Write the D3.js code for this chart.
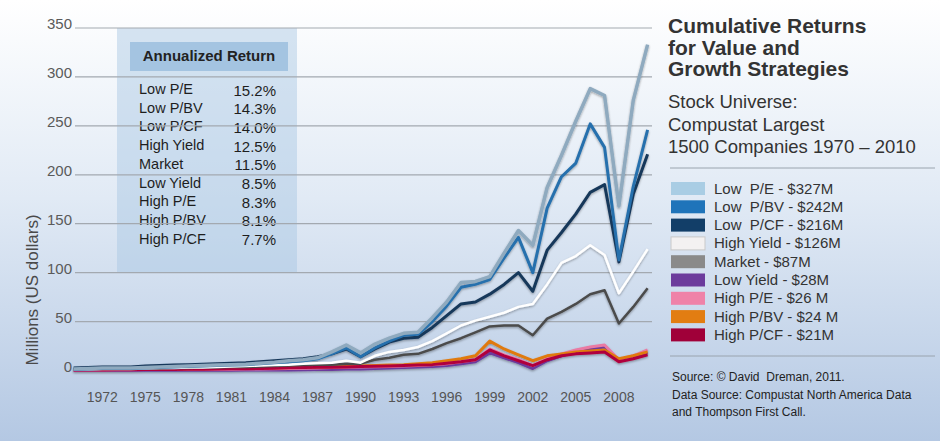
<!DOCTYPE html>
<html lang="en">
<head>
  <meta charset="UTF-8">
  <title>Cumulative Returns for Value and Growth Strategies</title>
  <script src="https://d3js.org/d3.v7.min.js"></script>
  <style>
    body { margin: 0; padding: 0; font-family: "Liberation Sans", Arial, sans-serif; }
    svg { display: block; }
    svg text { white-space: pre; }
  </style>
</head>
<body>
  <div id="chart"></div>
  <script>
    const width = 940, height = 441;

    // data (millions of US dollars, 1970-2010)
    const years = d3.range(1970, 2011);
    const tickYears = [1972, 1975, 1978, 1981, 1984, 1987, 1990, 1993, 1996, 1999, 2002, 2005, 2008];
    const yTicks = [0, 50, 100, 150, 200, 250, 300, 350];

    const lowPE = [1.5, 2, 2.5, 2.5, 2.5, 3, 3.5, 4, 4.5, 5, 5.5, 6, 6.5, 7.5, 8.5, 10, 11, 13, 19, 26,
      18, 27, 33, 38, 39, 54, 70, 90, 91, 96, 120, 143, 128, 187, 220, 255, 288, 281, 168, 276, 333];
    const lowPBV = [1, 1.5, 2, 2, 2, 2.5, 3, 3.5, 4, 4.5, 5, 5.5, 6, 7, 8, 9, 10, 12, 17, 23,
      14, 23, 30, 36, 37, 50, 66, 85, 88, 93, 115, 136, 100, 166, 198, 212, 252, 228, 113, 188, 246];
    const lowPCF = [2.5, 3, 3.5, 3.5, 3.5, 4.5, 5, 5.5, 6, 6.5, 7, 7.5, 8, 9, 10, 11, 12, 14, 17, 22,
      14, 22, 29, 33, 34, 44, 56, 68, 70, 78, 88, 100, 81, 123, 141, 160, 182, 190, 111, 180, 221];
    const highYield = [1, 1, 1.5, 1.5, 1.5, 2, 2.5, 2.5, 3, 3, 3.5, 4, 4.5, 5, 5.5, 6, 7, 7.5, 8, 10,
      8, 15, 19, 21, 24, 30, 38, 46, 51, 55, 59, 65, 68, 88, 110, 117, 128, 118, 79, 101, 124];
    const market = [1, 1, 1.5, 1.5, 1.5, 2, 2, 2.5, 2.5, 3, 3, 3.5, 3.5, 4, 4.5, 5, 5.5, 6, 6, 7,
      7, 11, 13, 16, 17, 22, 28, 33, 39, 45, 46, 46, 36, 53, 60, 68, 78, 82, 48, 65, 84];
    const lowYield = [0.1, 0.1, 0.1, 0.1, 0.1, 0.2, 0.2, 0.2, 0.2, 0.3, 0.3, 0.3, 0.4, 0.5, 0.5, 0.6, 0.8, 1, 1, 1.5,
      1.5, 2, 2.5, 3, 3.5, 4, 5, 7, 9, 18, 13, 8, 2, 10, 15, 19, 22, 24, 10, 14, 18];
    const highPE = [0.5, 0.5, 0.6, 0.7, 0.8, 0.9, 1, 1, 1.1, 1.2, 1.3, 1.4, 1.5, 1.6, 1.8, 2, 2.3, 2.6, 3, 3.3,
      3.5, 3.8, 4.1, 4.5, 5.2, 6, 7, 9, 11, 22, 16, 11, 5, 12, 17, 21, 24, 26, 11, 15, 21];
    const highPBV = [1, 1, 1.1, 1.2, 1.3, 1.4, 1.5, 1.6, 1.7, 1.9, 2, 2.2, 2.4, 2.6, 2.8, 3, 3.3, 3.6, 3.9, 4.2,
      4.5, 5, 5.5, 6, 7, 8, 10, 12, 15, 30, 22, 16, 10, 15, 17, 19, 20, 21, 12, 15, 19];
    const highPCF = [0.5, 0.5, 0.6, 0.7, 0.8, 0.9, 1, 1.1, 1.2, 1.3, 1.5, 1.7, 1.9, 2.1, 2.4, 2.7, 3, 3.2, 3.4, 3.7,
      4, 4.3, 4.6, 5, 5.5, 6, 7.5, 9, 11, 21, 15, 10, 5, 11, 15, 17, 18, 19, 9, 12, 16];

    const legendLabels = ["Low  P/E - $327M", "Low  P/BV - $242M", "Low  P/CF - $216M", "High Yield - $126M",
      "Market - $87M", "Low Yield - $28M", "High P/E - $26 M", "High P/BV - $24 M", "High P/CF - $21M"];
    const legendColors = ["#a9cde4", "#1f74ba", "#123e68", "#f3f1f1", "#8a8a8a", "#6c3b9c", "#ef82a8", "#e27d12", "#a00039"];

    const returnLabels = ["Low P/E", "Low P/BV", "Low P/CF", "High Yield", "Market", "Low Yield", "High P/E", "High P/BV", "High P/CF"];
    const returnValues = ["15.2%", "14.3%", "14.0%", "12.5%", "11.5%", "8.5%", "8.3%", "8.1%", "7.7%"];

    // draw order: bottom group first, value strategies on top
    const series = [
      { name: "Low Yield", values: lowYield, color: "#6c3b9c", w: 3 },
      { name: "High P/E", values: highPE, color: "#ea7aa3", w: 3 },
      { name: "High P/BV", values: highPBV, color: "#e07a10", w: 3 },
      { name: "High P/CF", values: highPCF, color: "#b0003e", w: 3 },
      { name: "Market", values: market, color: "#4b4b4b", w: 2.5 },
      { name: "High Yield", values: highYield, color: "#ffffff", w: 2.5 },
      { name: "Low P/CF", values: lowPCF, color: "#17375a", w: 3 },
      { name: "Low P/BV", values: lowPBV, color: "#2670ad", w: 3 },
      { name: "Low P/E", values: lowPE, color: "#8faabf", w: 3.5 }
    ];

    const svg = d3.select("#chart").append("svg")
      .attr("width", width)
      .attr("height", height);

    const defs = svg.append("defs");
    const bg = defs.append("linearGradient").attr("id", "bg")
      .attr("x1", 0).attr("y1", 0).attr("x2", 0).attr("y2", 1);
    bg.append("stop").attr("offset", "0%").attr("stop-color", "#ffffff");
    bg.append("stop").attr("offset", "45%").attr("stop-color", "#e1eaf5");
    bg.append("stop").attr("offset", "100%").attr("stop-color", "#b4c8e3");

    const shadow = defs.append("filter").attr("id", "shadow")
      .attr("x", "-5%").attr("y", "-5%").attr("width", "110%").attr("height", "120%");
    shadow.append("feDropShadow").attr("dx", 0).attr("dy", 1.2)
      .attr("stdDeviation", 0.8).attr("flood-color", "#000").attr("flood-opacity", 0.35);

    svg.append("rect").attr("width", width).attr("height", height).attr("fill", "url(#bg)");

    const x = d3.scaleLinear().domain([1970, 2010]).range([73.6, 647.6]);
    const y = d3.scaleLinear().domain([0, 350]).range([370.5, 28]);

    // annualized return panel (behind the grid)
    svg.append("rect")
      .attr("x", 117).attr("y", 28).attr("width", 180).attr("height", 244)
      .attr("fill", "#a6c6e3").attr("opacity", 0.45);
    svg.append("rect")
      .attr("x", 130).attr("y", 42).attr("width", 158).attr("height", 29)
      .attr("fill", "#a4c4e1");
    svg.append("text")
      .attr("x", 209).attr("y", 61)
      .attr("text-anchor", "middle")
      .attr("font-size", 15).attr("font-weight", "bold").attr("fill", "#222")
      .text("Annualized Return");

    const rows = svg.append("g");
    returnLabels.forEach((lab, i) => {
      const ry = 94 + i * 18.7;
      rows.append("text").attr("x", 139).attr("y", ry)
        .attr("font-size", 14.5).attr("fill", "#1e1e1e").text(lab);
      rows.append("text").attr("x", 276).attr("y", ry + 1.5)
        .attr("text-anchor", "end")
        .attr("font-size", 15).attr("fill", "#1e1e1e").text(returnValues[i]);
    });

    // gridlines + y labels
    svg.append("g")
      .selectAll("line")
      .data(yTicks.filter(d => d > 0))
      .join("line")
      .attr("x1", 75).attr("x2", 652)
      .attr("y1", d => y(d)).attr("y2", d => y(d))
      .attr("stroke", "#a3a9b0").attr("stroke-width", 1.2);

    svg.append("g")
      .selectAll("text")
      .data(yTicks)
      .join("text")
      .attr("x", 72)
      .attr("y", d => y(d) + 1)
      .attr("text-anchor", "end")
      .attr("font-size", 15).attr("fill", "#5a5a5a")
      .text(d => d);

    svg.append("g")
      .selectAll("text")
      .data(tickYears)
      .join("text")
      .attr("x", d => x(d))
      .attr("y", 402)
      .attr("text-anchor", "middle")
      .attr("font-size", 14).attr("fill", "#555")
      .text(d => d);

    svg.append("text")
      .attr("transform", "translate(38,290) rotate(-90)")
      .attr("text-anchor", "middle")
      .attr("font-size", 17).attr("fill", "#4a4a4a")
      .text("Millions (US dollars)");

    // series lines
    const line = d3.line()
      .x((d, i) => x(years[i]))
      .y(d => y(d));

    svg.append("g")
      .attr("filter", "url(#shadow)")
      .selectAll("path")
      .data(series)
      .join("path")
      .attr("d", d => line(d.values))
      .attr("fill", "none")
      .attr("stroke", d => d.color)
      .attr("stroke-width", d => d.w)
      .attr("stroke-linejoin", "round");

    // right-hand title and legend
    const side = svg.append("g");
    ["Cumulative Returns", "for Value and", "Growth Strategies"].forEach((t, i) => {
      side.append("text").attr("x", 668).attr("y", 33 + i * 21.5)
        .attr("font-size", 21).attr("font-weight", "bold").attr("fill", "#333").text(t);
    });
    ["Stock Universe:", "Compustat Largest", "1500 Companies 1970 \u2013 2010"].forEach((t, i) => {
      side.append("text").attr("x", 668).attr("y", 108 + i * 22.5)
        .attr("font-size", 18.5).attr("fill", "#333").text(t);
    });
    side.append("line").attr("x1", 670).attr("x2", 935).attr("y1", 168).attr("y2", 168)
      .attr("stroke", "#9aa4ae").attr("stroke-width", 1);
    side.append("line").attr("x1", 670).attr("x2", 935).attr("y1", 356).attr("y2", 356)
      .attr("stroke", "#9aa4ae").attr("stroke-width", 1);

    const legend = side.append("g")
      .selectAll("g")
      .data(legendLabels)
      .join("g")
      .attr("transform", (d, i) => `translate(671,${182 + i * 18.3})`);
    legend.append("rect")
      .attr("width", 34).attr("height", 13)
      .attr("fill", (d, i) => legendColors[i])
      .attr("stroke", (d, i) => i === 3 ? "#c9c9c9" : "none");
    legend.append("text")
      .attr("x", 43).attr("y", 11.5)
      .attr("font-size", 15).attr("fill", "#333")
      .text(d => d);

    ["Source: \u00a9 David  Dreman, 2011.", "Data Source: Compustat North America Data", "and Thompson First Call."]
      .forEach((t, i) => {
        side.append("text").attr("x", 672).attr("y", 381 + i * 17.5)
          .attr("font-size", 12).attr("fill", "#222").text(t);
      });
  </script>
</body>
</html>
